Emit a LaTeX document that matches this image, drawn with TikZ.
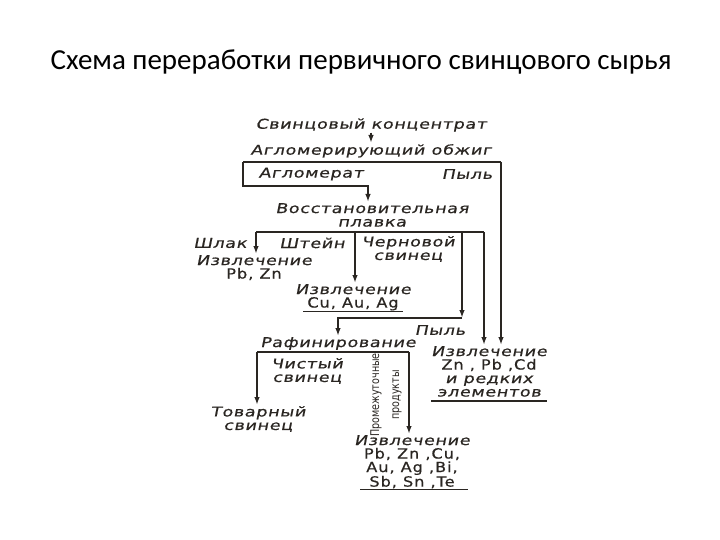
\documentclass[tikz,border=0pt]{standalone}
\usepackage{fontspec}
\setmainfont{Carlito}
\newfontfamily\scanfont[FakeSlant=0.2,FakeStretch=1.3,FakeBold=0.6,LetterSpace=5]{DejaVu Sans}
\newfontfamily\elemfont[FakeStretch=1.15,FakeBold=0.6,LetterSpace=7]{DejaVu Sans}
\newfontfamily\narrowfont[FakeStretch=0.8]{DejaVu Sans}
\usetikzlibrary{calc,positioning,arrows.meta}
\definecolor{ink}{HTML}{2A2622}
\newcommand{\elem}[1]{{\elemfont\fontsize{14}{13.5}\selectfont #1}}

\begin{document}
\begin{tikzpicture}[x=1pt, y=-1pt,
    lbl/.style={font=\scanfont\fontsize{13.5}{13.5}\selectfont, text=ink, inner sep=1pt, align=center},
    flow/.style={draw=ink, line width=1.6pt},
    arr/.style={flow, -{Latex[length=8pt, width=5.5pt]}},
    heading/.style={font=\fontsize{29}{32}\selectfont, inner sep=0pt}]

	\fill[white] (0,0) rectangle (720,540);
	\useasboundingbox (0,0) rectangle (720,540);

	\node[heading] (title) at (361,62) {Схема переработки первичного свинцового сырья};

	% sintering
	\node[lbl] (konc) at (371,125) {Свинцовый концентрат};
	\node[lbl, anchor=north] (obzhig) at (371,143) {Агломерирующий обжиг};
	\node[lbl] (aglom) at (311,174) {Агломерат};
	\node[lbl] (pyl1) at (467,174) {Пыль};
	\coordinate (aL) at (243,162);
	\coordinate (aR) at (501,162);
	\coordinate (aD) at (368,186);

	% smelting
	\node[lbl, anchor=north] (vosst) at (372,202) {Восстановительная\\плавка};
	\coordinate (bL) at (256,232);
	\coordinate (bM) at (355,232);
	\coordinate (bC) at (462,232);
	\coordinate (bR) at (484,232);
	\node[lbl] (shlak) at (220,243) {Шлак};
	\node[lbl] (shtein) at (312,243) {Штейн};
	\node[lbl] (chern) at (408,249) {Черновой\\свинец};
	\node[lbl, anchor=north] (izvPbZn) at (254,254) {Извлечение\\\elem{Pb, Zn}};
	\node[lbl, anchor=north] (izvCu) at (353,283) {Извлечение\\\elem{Cu, Au, Ag}};

	% refining
	\coordinate (rJ) at (462,318);
	\node[lbl, anchor=north] (rafin) at (338,336) {Рафинирование};
	\node[lbl] (pyl2) at (440,330) {Пыль};
	\coordinate (cL) at (257,352);
	\coordinate (cR) at (409,352);
	\node[lbl] (chist) at (307,371) {Чистый\\свинец};
	\node[lbl, anchor=north] (tovar) at (258,405) {Товарный\\свинец};
	\node[font=\narrowfont\fontsize{12}{20}\selectfont, text=ink, inner sep=0pt, align=center, rotate=90] (promprod) at (386,395) {Промежуточные\\продукты};
	\node[lbl, anchor=north] (izvPb) at (412,434) {Извлечение\\\elem{Pb, Zn ,Cu,}\\\elem{Au, Ag ,Bi,}\\\elem{Sb, Sn ,Te}};
	\node[lbl, anchor=north] (izvZn) at (489,345) {Извлечение\\\elem{Zn , Pb ,Cd}\\и редких\\элементов};

	% connectors
	\draw[arr] (konc) -- (obzhig);
	\draw[flow] (aL) -- (aR);
	\draw[arr] (aL) |- (aD) -- (aD |- vosst.north);
	\draw[arr] (aR) -- (aR |- izvZn.north);

	\draw[flow] (bL) -- (bR);
	\draw[arr] (bL) -- (bL |- izvPbZn.north);
	\draw[arr] (bM) -- (bM |- izvCu.north);
	\draw[arr] (bC) -- (rJ);
	\draw[arr] (rJ) -| (rafin.north);
	\draw[arr] (bR) -- (bR |- izvZn.north);

	\draw[flow] (cL) -- (cR);
	\draw[arr] (cL) -- (cL |- tovar.north);
	\draw[arr] (cR) -- (cR |- izvPb.north);

	% underlines
	\draw[flow, line width=1.2pt] ($(izvCu.south)+(-50,0)$) -- ++(100,0);
	\draw[flow, line width=1.2pt] ($(izvZn.south)+(-58,3)$) -- ++(116,0);
	\draw[flow, line width=1.2pt] ($(izvPb.south)+(-52,0)$) -- ++(108,0);
\end{tikzpicture}
\end{document}
